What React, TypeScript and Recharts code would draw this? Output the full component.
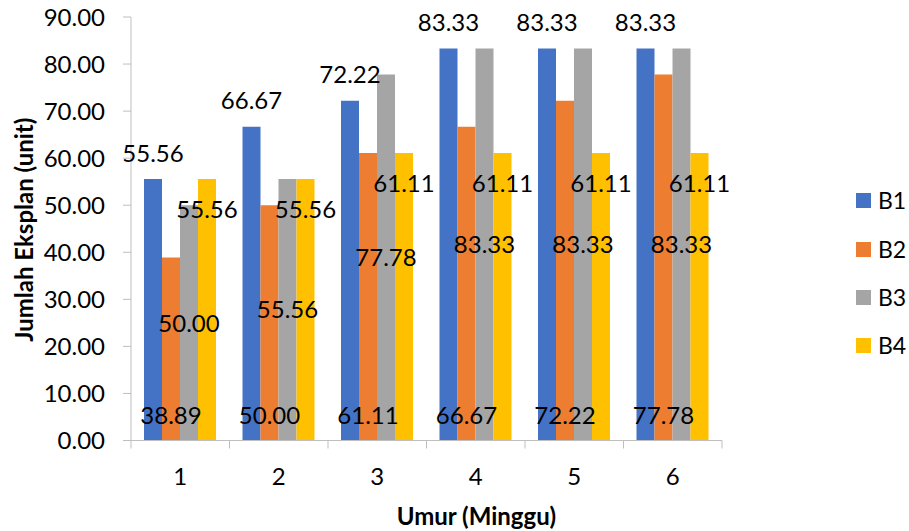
import { BarChart, Bar, XAxis, YAxis, Legend, LabelList } from "recharts";

// week numbers on the category axis
const weeks = ["1", "2", "3", "4", "5", "6"];

// explant counts per treatment
const b1 = [55.56, 66.67, 72.22, 83.33, 83.33, 83.33];
const b2 = [38.89, 50.0, 61.11, 66.67, 72.22, 77.78];
const b3 = [50.0, 55.56, 77.78, 83.33, 83.33, 83.33];
const b4 = [55.56, 55.56, 61.11, 61.11, 61.11, 61.11];

const yTicks = [0, 10, 20, 30, 40, 50, 60, 70, 80, 90];

const data = weeks.map((week, i) => ({
  week,
  B1: b1[i],
  B2: b2[i],
  B3: b3[i],
  B4: b4[i],
}));

const FONT = "Lato, 'Open Sans', sans-serif";
const AXIS = "#bfbfbf";

// value labels sit in a different spot for each series
const makeLabel = (place: "above" | "base" | "middle" | "inside") => (props: any) => {
  const vb = props.viewBox ?? props;
  const x = Number(vb.x);
  const y = Number(vb.y);
  const w = Number(vb.width);
  const h = Number(vb.height);
  let cy = y - 26;
  if (place === "base") cy = y + h - 25;
  if (place === "middle") cy = y + h / 2;
  if (place === "inside") cy = y + 30;
  return (
    <text
      x={x + w / 2}
      y={cy}
      dy="0.36em"
      textAnchor="middle"
      fontSize={24}
      fill="#000"
      fontFamily={FONT}
    >
      {Number(props.value).toFixed(2)}
    </text>
  );
};

// category tick: label in the middle, tick marks between categories
const WeekTick = (props: any) => {
  const { x, y, payload, index } = props;
  const half = payload.offset ?? 49.25;
  return (
    <g>
      <line x1={x - half} y1={y} x2={x - half} y2={y + 8} stroke={AXIS} />
      {index === weeks.length - 1 && (
        <line x1={x + half} y1={y} x2={x + half} y2={y + 8} stroke={AXIS} />
      )}
      <text
        x={x}
        y={y + 36}
        dy="0.36em"
        textAnchor="middle"
        fontSize={24}
        fill="#000"
        fontFamily={FONT}
      >
        {payload.value}
      </text>
    </g>
  );
};

const YTitle = (props: any) => {
  const vb = props.viewBox;
  const cx = vb.x + 24;
  const cy = vb.y + vb.height / 2 + 1;
  return (
    <text
      x={cx}
      y={cy}
      dy="0.36em"
      transform={`rotate(-90, ${cx}, ${cy})`}
      textAnchor="middle"
      fontSize={24}
      fontWeight="bold"
      fill="#000"
      fontFamily={FONT}
    >
      Jumlah Eksplan (unit)
    </text>
  );
};

const XTitle = (props: any) => {
  const vb = props.viewBox;
  return (
    <text
      x={vb.x + vb.width / 2 + 50}
      y={vb.y + 76}
      dy="0.36em"
      textAnchor="middle"
      fontSize={24}
      fontWeight="bold"
      fill="#000"
      fontFamily={FONT}
    >
      Umur (Minggu)
    </text>
  );
};

const renderLegend = (props: any) => (
  <div style={{ fontFamily: FONT }}>
    {(props.payload ?? []).map((item: any) => (
      <div
        key={item.value}
        style={{ display: "flex", alignItems: "center", height: 48.3 }}
      >
        <span
          style={{
            display: "inline-block",
            width: 15,
            height: 15,
            background: item.color,
            marginRight: 7,
          }}
        />
        <span style={{ fontSize: 23, color: "#000", lineHeight: 1 }}>
          {item.value}
        </span>
      </div>
    ))}
  </div>
);

export default function App() {
  return (
    <div style={{ position: "absolute", left: 0, top: 0, fontFamily: FONT }}>
      <BarChart
        width={909}
        height={531}
        data={data}
        margin={{ top: 17, right: 187, bottom: 0, left: 0 }}
        barSize={18}
        barGap={0}
      >
        <XAxis
          dataKey="week"
          height={90.5}
          axisLine={{ stroke: AXIS }}
          tickLine={false}
          tickSize={0}
          tickMargin={0}
          tick={<WeekTick />}
          interval={0}
          label={{ content: <XTitle /> }}
        />
        <YAxis
          width={131}
          domain={[0, 90]}
          ticks={yTicks}
          interval={0}
          tickFormatter={(v: number) => v.toFixed(2)}
          axisLine={{ stroke: AXIS }}
          tickLine={{ stroke: AXIS }}
          tickSize={8}
          tickMargin={18}
          tick={{ fill: "#000", fontSize: 24, fontFamily: FONT }}
          label={{ content: <YTitle /> }}
        />
        <Legend
          layout="vertical"
          align="center"
          verticalAlign="middle"
          content={renderLegend}
          wrapperStyle={{ left: 856, top: 176.85, width: 60 }}
        />
        <Bar dataKey="B1" name="B1" fill="#4472c4" isAnimationActive={false}>
          <LabelList dataKey="B1" content={makeLabel("above")} />
        </Bar>
        <Bar dataKey="B2" name="B2" fill="#ed7d31" isAnimationActive={false}>
          <LabelList dataKey="B2" content={makeLabel("base")} />
        </Bar>
        <Bar dataKey="B3" name="B3" fill="#a5a5a5" isAnimationActive={false}>
          <LabelList dataKey="B3" content={makeLabel("middle")} />
        </Bar>
        <Bar dataKey="B4" name="B4" fill="#ffc000" isAnimationActive={false}>
          <LabelList dataKey="B4" content={makeLabel("inside")} />
        </Bar>
      </BarChart>
    </div>
  );
}
